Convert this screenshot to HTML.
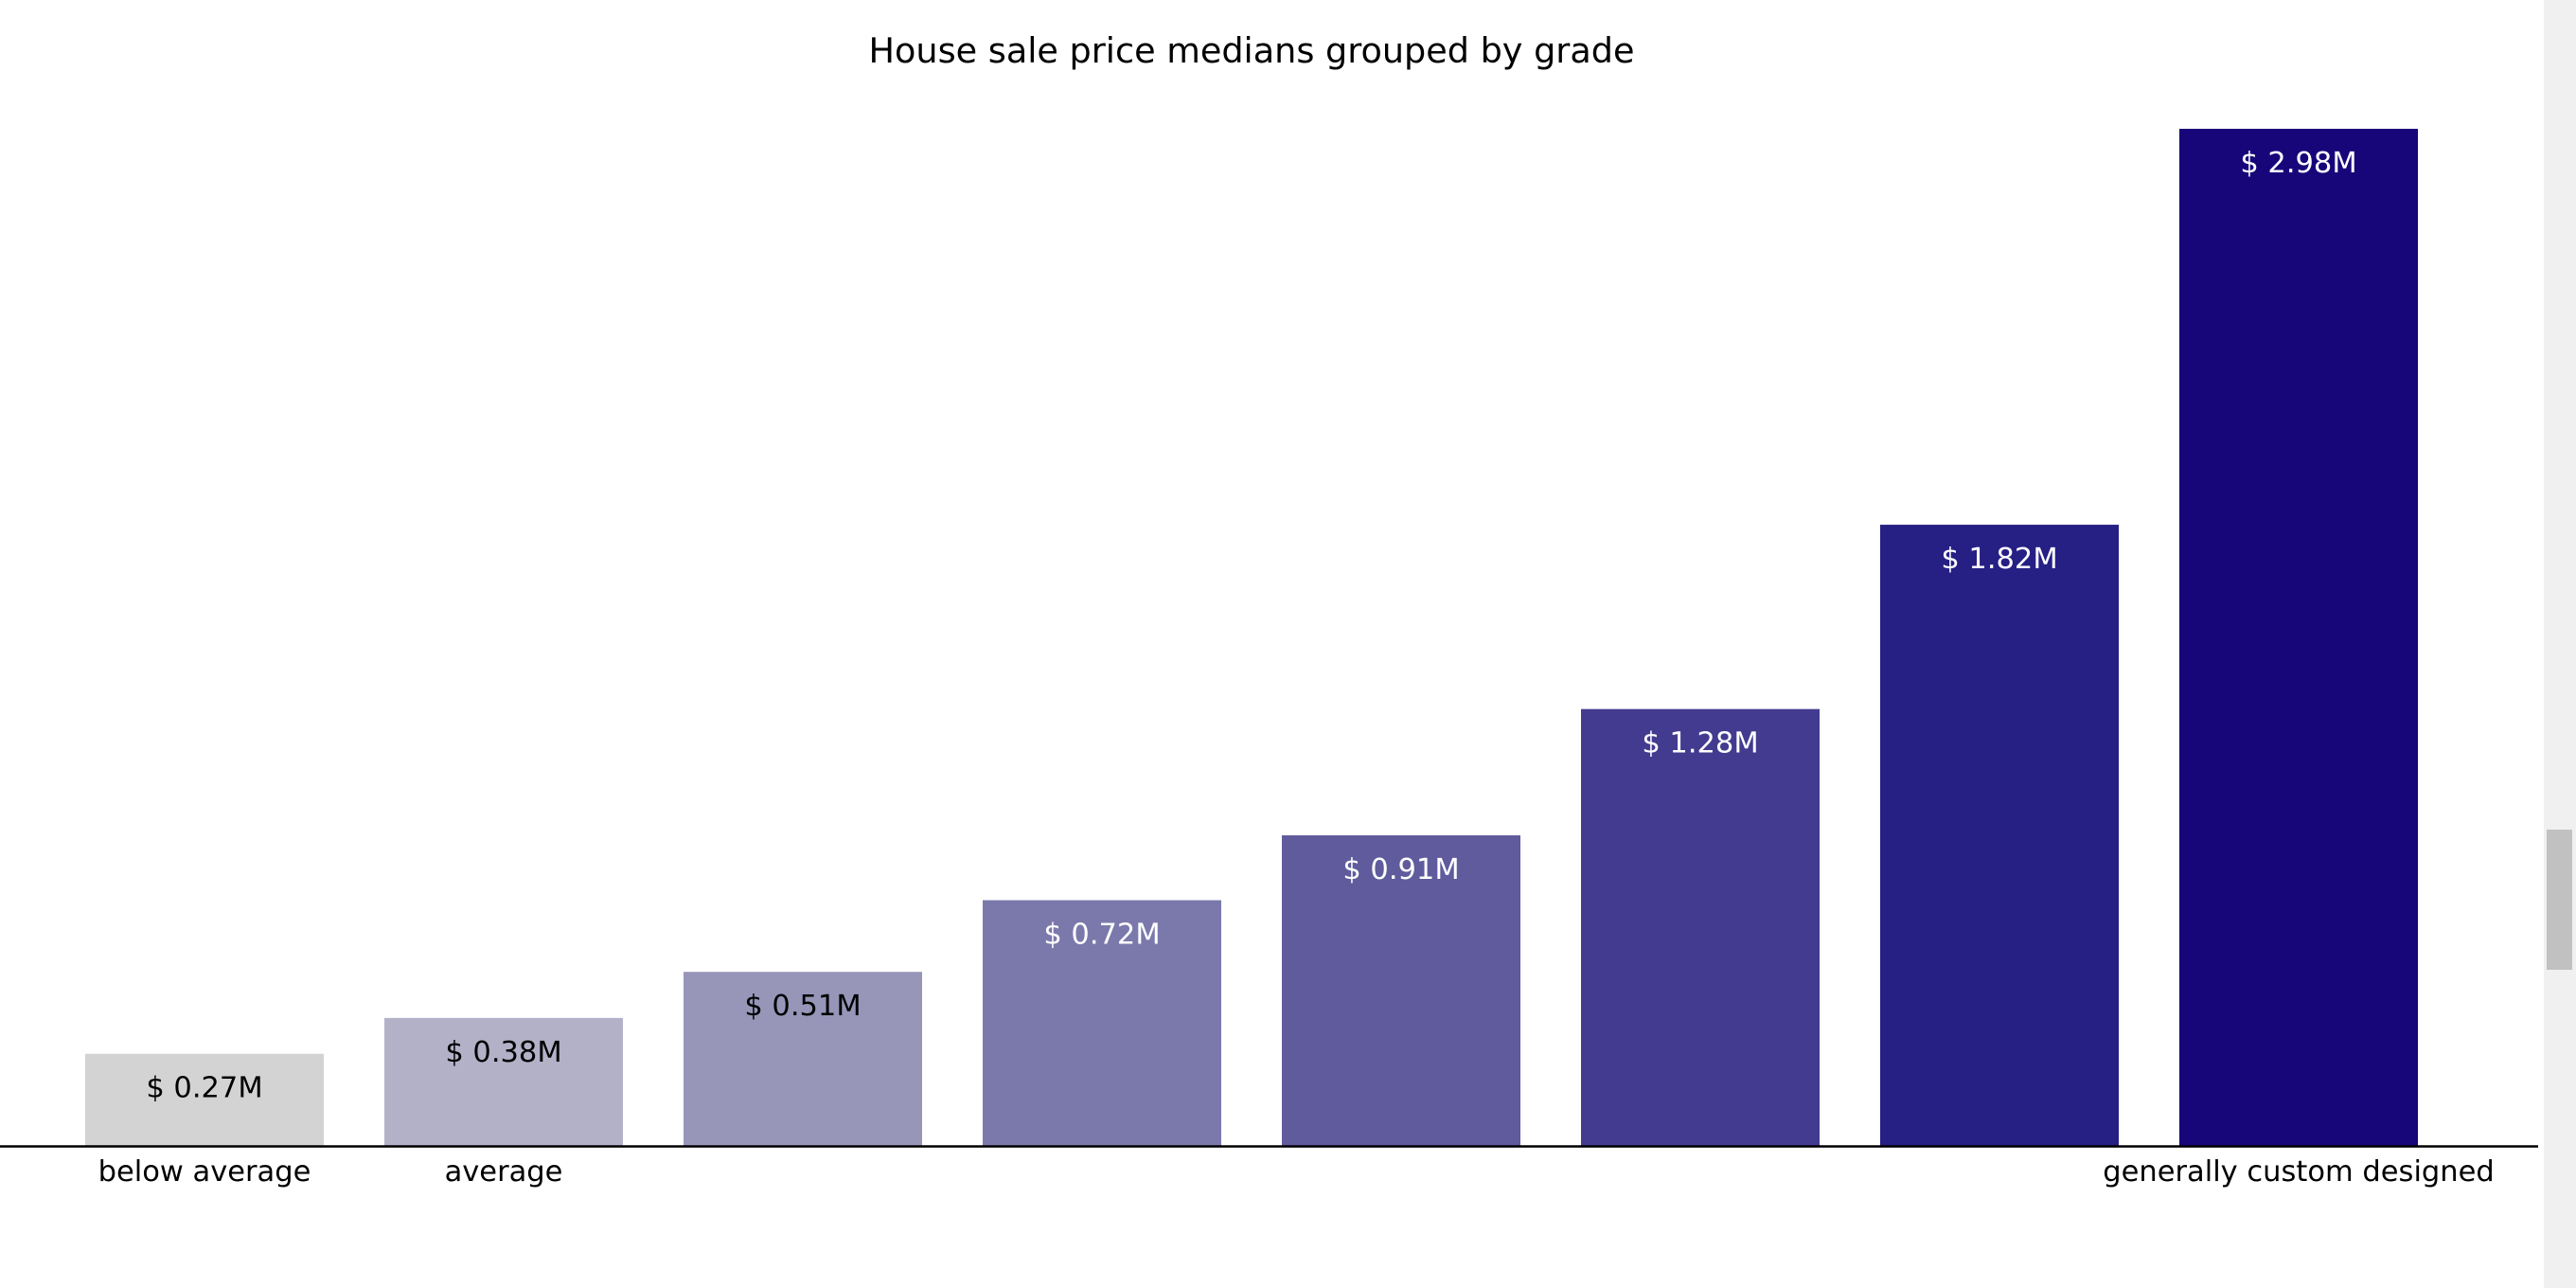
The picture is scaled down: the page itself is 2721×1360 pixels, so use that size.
<!DOCTYPE html>
<html><head><meta charset="utf-8"><style>
html,body{margin:0;padding:0;background:#fff;overflow:hidden}
#wrap{position:relative;width:2721px;height:1360px}
svg text{font-family:"DejaVu Sans","Liberation Sans",sans-serif}
</style></head><body>
<div id="wrap">
<svg id="chart" width="2687" height="1360">
<text x="1322" y="66" font-size="36.6" text-anchor="middle">House sale price medians grouped by grade</text>
<g id="bars"></g>
<line x1="0" x2="2681" y1="1210.5" y2="1210.5" stroke="#000" stroke-width="2.5"/>
</svg>
<div style="position:absolute;left:2687px;top:0;width:34px;height:1360px;background:#f0f0f0"></div>
<div style="position:absolute;left:2690px;top:876px;width:27px;height:148px;background:#c1c1c1"></div>
</div>
<script>
const categories = ["below average","average","","","","","","generally custom designed"];
const values = [0.27,0.375,0.51,0.72,0.91,1.28,1.82,2.98];
const valueLabels = ["$ 0.27M","$ 0.38M","$ 0.51M","$ 0.72M","$ 0.91M","$ 1.28M","$ 1.82M","$ 2.98M"];
const colors = ["#d3d3d3","#b3b1c8","#9796b9","#7b79ab","#5f5b9c","#433b8f","#261f84","#17067a"];
const textColors = ["#000","#000","#000","#fff","#fff","#fff","#fff","#fff"];

const NS="http://www.w3.org/2000/svg";
const baseY=1210, pxPerM=360.4, firstCenter=216, pitch=316, barW=252;
const xScale=i=>firstCenter+i*pitch;
const yScale=v=>baseY-v*pxPerM;
const g=document.getElementById('bars');
values.forEach((v,i)=>{
  const cx=xScale(i), top=yScale(v);
  const r=document.createElementNS(NS,'rect');
  r.setAttribute('x',cx-barW/2);r.setAttribute('y',top);
  r.setAttribute('width',barW);r.setAttribute('height',baseY-top);
  r.setAttribute('fill',colors[i]);
  
  
  g.appendChild(r);
  const t=document.createElementNS(NS,'text');
  t.setAttribute('x',cx);t.setAttribute('y',top+46);
  t.setAttribute('font-size','30.5');t.setAttribute('text-anchor','middle');
  t.setAttribute('fill',textColors[i]);
  t.textContent=valueLabels[i];
  
  
  g.appendChild(t);
  if(categories[i]){
    const c=document.createElementNS(NS,'text');
    c.setAttribute('x',cx);c.setAttribute('y',1247);
    c.setAttribute('font-size','30.5');c.setAttribute('text-anchor','middle');
    c.textContent=categories[i];
    
    
    g.appendChild(c);
  }
});
</script>
</body></html>
